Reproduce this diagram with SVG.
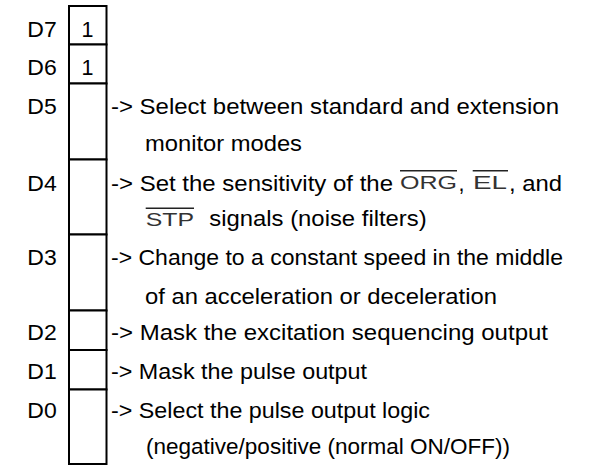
<svg xmlns="http://www.w3.org/2000/svg" width="590" height="466" viewBox="0 0 590 466">
<style>
  .cell { fill: #ffffff; stroke: #000000; stroke-width: 2; }
  .t { font-family: "Liberation Sans", Arial, sans-serif; font-size: 21.5px; fill: #000000; }
  .sig { font-family: "Liberation Sans", Arial, sans-serif; font-size: 18.5px; fill: #333333; }
  .bar { stroke: #222222; stroke-width: 1.6; }
</style>
<rect width="590" height="466" fill="#ffffff"/>
<g id="bit-D7">
  <rect class="cell" x="69" y="6" width="37.5" height="38.5"/>
  <text class="t" x="27.3" y="37" textLength="29.4" lengthAdjust="spacingAndGlyphs">D7</text>
  <text class="t" x="87.5" y="37" text-anchor="middle">1</text>
</g>
<g id="bit-D6">
  <rect class="cell" x="69" y="44.5" width="37.5" height="39"/>
  <text class="t" x="27.3" y="75" textLength="29.4" lengthAdjust="spacingAndGlyphs">D6</text>
  <text class="t" x="87.5" y="75" text-anchor="middle">1</text>
</g>
<g id="bit-D5">
  <rect class="cell" x="69" y="83.5" width="37.5" height="76"/>
  <text class="t" x="27.3" y="114" textLength="29.4" lengthAdjust="spacingAndGlyphs">D5</text>
  <text class="t" x="111" y="114" textLength="448" lengthAdjust="spacingAndGlyphs">-&gt; Select between standard and extension</text>
  <text class="t" x="145" y="151" textLength="157" lengthAdjust="spacingAndGlyphs">monitor modes</text>
</g>
<g id="bit-D4">
  <rect class="cell" x="69" y="159.5" width="37.5" height="75"/>
  <text class="t" x="27.3" y="191" textLength="29.4" lengthAdjust="spacingAndGlyphs">D4</text>
  <text class="t" x="111" y="191" textLength="282" lengthAdjust="spacingAndGlyphs">-&gt; Set the sensitivity of the</text>
  <text class="sig" x="400" y="188.5" textLength="57" lengthAdjust="spacingAndGlyphs">ORG</text>
  <line class="bar" x1="400" y1="170.8" x2="457" y2="170.8"/>
  <text class="t" x="458.5" y="191">,</text>
  <text class="sig" x="473" y="188.5" textLength="34" lengthAdjust="spacingAndGlyphs">EL</text>
  <line class="bar" x1="472.7" y1="170.8" x2="508" y2="170.8"/>
  <text class="t" x="509" y="191" textLength="53" lengthAdjust="spacingAndGlyphs">, and</text>
  <text class="sig" x="145.7" y="226" textLength="48.3" lengthAdjust="spacingAndGlyphs">STP</text>
  <line class="bar" x1="145.7" y1="208.3" x2="194" y2="208.3"/>
  <text class="t" x="209.3" y="226" textLength="217.4" lengthAdjust="spacingAndGlyphs">signals (noise filters)</text>
</g>
<g id="bit-D3">
  <rect class="cell" x="69" y="234.5" width="37.5" height="76"/>
  <text class="t" x="27.3" y="265" textLength="29.4" lengthAdjust="spacingAndGlyphs">D3</text>
  <text class="t" x="111" y="265" textLength="452" lengthAdjust="spacingAndGlyphs">-&gt; Change to a constant speed in the middle</text>
  <text class="t" x="145" y="304" textLength="352" lengthAdjust="spacingAndGlyphs">of an acceleration or deceleration</text>
</g>
<g id="bit-D2">
  <rect class="cell" x="69" y="310.5" width="37.5" height="39.5"/>
  <text class="t" x="27.3" y="340" textLength="29.4" lengthAdjust="spacingAndGlyphs">D2</text>
  <text class="t" x="111" y="340" textLength="437" lengthAdjust="spacingAndGlyphs">-&gt; Mask the excitation sequencing output</text>
</g>
<g id="bit-D1">
  <rect class="cell" x="69" y="350" width="37.5" height="39.5"/>
  <text class="t" x="27.3" y="379" textLength="29.4" lengthAdjust="spacingAndGlyphs">D1</text>
  <text class="t" x="111" y="379" textLength="256" lengthAdjust="spacingAndGlyphs">-&gt; Mask the pulse output</text>
</g>
<g id="bit-D0">
  <rect class="cell" x="69" y="389.5" width="37.5" height="74.5"/>
  <text class="t" x="27.3" y="418" textLength="29.4" lengthAdjust="spacingAndGlyphs">D0</text>
  <text class="t" x="111" y="418" textLength="319" lengthAdjust="spacingAndGlyphs">-&gt; Select the pulse output logic</text>
  <text class="t" x="146" y="454" textLength="364" lengthAdjust="spacingAndGlyphs">(negative/positive (normal ON/OFF))</text>
</g>
<g id="connectors"></g>
</svg>
